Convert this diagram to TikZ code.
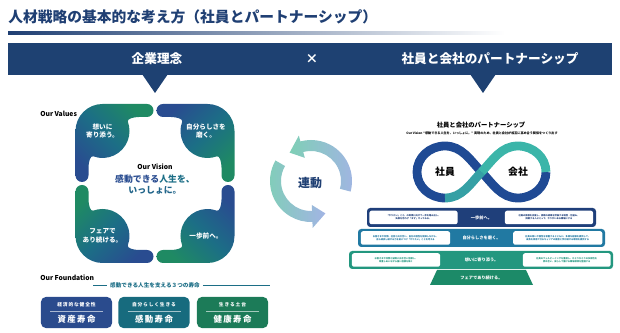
\documentclass[tikz,border=0pt]{standalone}
\usepackage{fontspec}
\setmainfont{Noto Sans CJK JP}

\definecolor{navy}{HTML}{1F3F73}
\definecolor{banner}{HTML}{1E4172}
\definecolor{vnavy}{HTML}{294C90}
\definecolor{vteal}{HTML}{1C6E86}
\definecolor{vgreen}{HTML}{1F8A63}
\definecolor{fblue}{HTML}{2A4B8D}
\definecolor{fteal}{HTML}{176B7E}
\definecolor{fgreen}{HTML}{1C7B58}
\definecolor{ttop}{HTML}{1F3F7A}
\definecolor{tmid}{HTML}{2179A2}
\definecolor{tlow}{HTML}{23977F}
\definecolor{tbase}{HTML}{1C8A68}
\definecolor{arrgreen}{HTML}{7FCFB6}
\definecolor{arrblue}{HTML}{A2B4E4}
\definecolor{infnavy}{HTML}{1F4A94}
\definecolor{infteal}{HTML}{3BB5A9}

\newcommand{\valuepetal}[4]{%
  \begin{scope}
    \clip[rotate around={#1:(155,-183.5)}]
      (207.5,-104) -- (163,-104) arc[start angle=90,end angle=270,radius=6.5]
      -- (171,-117) .. controls (177,-117) and (183.2,-119) .. (182.13,-121.77)
      arc[start angle=160,end angle=290,radius=27]
      .. controls (219.5,-155.3) and (221.5,-161.5) .. (221.5,-167.5)
      -- (221.5,-175.5) arc[start angle=180,end angle=360,radius=6.5]
      -- (234.5,-131) arc[start angle=0,end angle=90,radius=27] -- cycle;
    \shade[top color=vnavy, bottom color=vgreen, middle color=vteal, shading angle=#2] #3 rectangle #4;
  \end{scope}}

\begin{document}
\begin{tikzpicture}[x=0.025cm, y=0.025cm,
  ttl/.style={font=\fontsize{10.5}{12.5}\selectfont\bfseries, text=navy, anchor=west, inner sep=0pt},
  band/.style={font=\fontsize{9}{11}\selectfont\bfseries, text=white, inner sep=0pt},
  lbl/.style={font=\fontsize{4.8}{5.8}\selectfont\bfseries, inner sep=0pt},
  ptxt/.style={font=\fontsize{4.7}{6.2}\selectfont\bfseries, text=white, align=center, inner sep=0pt},
  vis/.style={font=\fontsize{6.3}{7.8}\selectfont\bfseries, align=center, inner sep=0pt},
  fbox/.style={rounded corners=0.12cm, minimum width=1.775cm, minimum height=0.775cm, inner sep=0pt},
  fsmall/.style={font=\fontsize{3.4}{4}\selectfont\bfseries, text=white, inner sep=0pt},
  fbig/.style={font=\fontsize{6}{7}\selectfont\bfseries, text=white, inner sep=0pt},
  fsep/.style={white, opacity=0.6, line width=0.2pt},
  tier/.style={rounded corners=0.08cm},
  tbox/.style={fill=white, rounded corners=0.05cm, inner sep=0pt, align=center,
               minimum height=0.3375cm, font=\fontsize{1.6}{2.3}\selectfont\bfseries},
  ttxt/.style={font=\fontsize{3}{3.6}\selectfont\bfseries, text=white, inner sep=0pt},
  infline/.style={line width=0.22cm},
  swirl/.style={left color=arrgreen, right color=arrblue, shift={(311,-181)}}
]
\useasboundingbox (0,0) rectangle (620,-333);
\node[ttl] (title) at (8,-17) {人材戦略の基本的な考え方（社員とパートナーシップ）};
\shade[left color=navy, middle color=navy!55!white, right color=white] (8,-31.5) rectangle (505,-34.5);
\fill[banner] (8,-43) rectangle (612,-75);
\fill[banner] (142,-74) -- (168,-74) -- (155,-93) -- cycle;
\fill[banner] (470,-74) -- (496,-74) -- (483,-93) -- cycle;
\node[band] (rinen)   at (157,-59) {企業理念};
\node[band] (kakeru)  at (312,-59) {×};
\node[band] (partner) at (490,-59) {社員と会社のパートナーシップ};

\node[lbl, anchor=west] (values) at (40,-114) {Our Values};
\valuepetal{0}{45}{(156,-104)}{(235,-182)}
\valuepetal{-90}{-45}{(156,-185)}{(235,-263)}
\valuepetal{-180}{-135}{(75,-185)}{(154,-263)}
\valuepetal{90}{135}{(75,-104)}{(154,-182)}
\node[ptxt] (omoi)  at (102.5,-131) {想いに\\寄り添う。};
\node[ptxt] (jibun) at (206,-131) {自分らしさを\\磨く。};
\node[ptxt] (fair)  at (102.5,-236) {フェアで\\あり続ける。};
\node[ptxt] (ippo)  at (206,-236) {一歩前へ。};
\node[lbl] (vision) at (155,-167) {Our Vision};
\node[vis] (kando) at (155,-185) {\textcolor{vnavy}{感動できる}\textcolor{vteal}{人生を、}\\\textcolor{vteal!70!vnavy}{いっしょに。}};

\node[lbl, anchor=west] (found) at (40,-278) {Our Foundation};
\node[font=\fontsize{4}{5}\selectfont\bfseries, text=vteal, inner sep=2pt] (three) at (155,-285) {感動できる人生を支える３つの寿命};
\draw[vteal, line width=0.3pt] (93,-285) -- (three.west);
\draw[vteal, line width=0.3pt] (three.east) -- (270,-285);
\node[fbox, fill=fblue]  (shisan) at (76.5,-312.5) {};
\node[fbox, fill=fteal]  (kandou) at (154,-312.5) {};
\node[fbox, fill=fgreen] (kenkou) at (232.5,-312.5) {};
\node[fsmall] (shisantop) at (76.5,-305) {経\,済\,的\,な\,健\,全\,性};
\node[fsmall] (kandoutop) at (154,-305) {自\,分\,ら\,し\,く\,生\,き\,る};
\node[fsmall] (kenkoutop) at (232.5,-305) {生\,き\,る\,土\,台};
\draw[fsep] (50,-311) -- (103,-311);
\draw[fsep] (127.5,-311) -- (180.5,-311);
\draw[fsep] (206,-311) -- (259,-311);
\node[fbig] (shisanname) at (76.5,-319.5) {資\,産\,寿\,命};
\node[fbig] (kandouname) at (154,-319.5) {感\,動\,寿\,命};
\node[fbig] (kenkouname) at (232.5,-319.5) {健\,康\,寿\,命};

\shade[swirl] (-15:41) arc[start angle=-15,end angle=105,radius=41] -- (105:47) -- (127:35.5)
  -- (105:24) -- (105:30) arc[start angle=105,end angle=-15,radius=30] -- cycle;
\shade[swirl] (150:41) arc[start angle=150,end angle=272,radius=41] -- (272:47) -- (294:35.5)
  -- (272:24) -- (272:30) arc[start angle=272,end angle=150,radius=30] -- cycle;
\node[font=\fontsize{8.5}{10}\selectfont\bfseries, text=navy, inner sep=0pt] (rendou) at (310,-183) {連動};

\node[font=\fontsize{4.5}{5.5}\selectfont\bfseries, inner sep=0pt] (ptitle) at (481,-125) {社員と会社のパートナーシップ};
\node[font=\fontsize{2.2}{2.6}\selectfont\bfseries, inner sep=0pt] (psub) at (482,-133) {Our Vision “感動できる人生を、いっしょに。” 実現のため、社員と会社が相互に高め合う関係をつくり出す};
\draw[infline, infnavy] (445,-198) .. controls (429.5,-198) and (417,-186.4) .. (417,-172)
  .. controls (417,-157.6) and (429.5,-146) .. (445,-146)
  .. controls (462,-146) and (470,-160) .. (481.5,-172)
  .. controls (493,-184) and (501,-198) .. (518,-198)
  .. controls (533.5,-198) and (546,-186.4) .. (546,-172);
\draw[infline, infteal!80!infnavy] (445,-198) .. controls (462,-198) and (470,-184) .. (481.5,-172);
\draw[infline, infteal] (481.5,-172) .. controls (493,-160) and (501,-146) .. (518,-146)
  .. controls (533.5,-146) and (546,-157.6) .. (546,-172);
\node[font=\fontsize{7}{8}\selectfont\bfseries, inner sep=0pt] (shain)  at (445,-172) {社員};
\node[font=\fontsize{7}{8}\selectfont\bfseries, inner sep=0pt] (kaisha) at (518,-172) {会社};

\fill[ttop, tier] (367,-208) rectangle (596,-227);
\node[tbox, text=ttop, minimum width=2.2cm] (ippoL) at (413.5,-217.5) {「やりたい」こと、の実現に向けて一歩を踏み出し、\\失敗を恐れず「まず」やってみる。};
\node[tbox, text=ttop, minimum width=2.2cm] (ippoR) at (549,-217.5) {社員の挑戦を支援し、挑戦の成果を評価する制度・仕組み。\\挑戦する人にとって、やりがいある職場にする};
\node[ttxt] (ippoC) at (481.5,-217.5) {一歩前へ。};

\fill[tmid, tier] (358,-229) rectangle (605,-247);
\node[tbox, text=tmid, minimum width=2.225cm] (jibunL) at (405.5,-238) {お客さまや仲間、社会と向き合い、自分の個性を発揮しながら、\\自ら成長し続ける力を身につけ「やりたい」ことを考える};
\node[tbox, text=tmid, minimum width=2.225cm] (jibunR) at (557.75,-238) {社員の想いや個性を尊重するとともに、多様な経験を提供して、\\成長を実感できるキャリアの機会と学び続ける環境を提供する};
\node[ttxt] (jibunC) at (481.5,-238) {自分らしさを磨く。};

\fill[tlow, tier] (349,-251) rectangle (613,-269);
\node[tbox, text=tlow, minimum width=2.2cm] (omoiL) at (396,-260) {お客さまや仲間と誠実に向き合い信頼し、\\尊重しあいながら強い信頼を築く};
\node[tbox, text=tlow, minimum width=2.1875cm] (omoiR) at (566.75,-260) {社員のウェルビーイングを重視し、ひとりひとりの多様性を\\認め合い、安心して働ける職場環境を整備する};
\node[ttxt] (omoiC) at (481.5,-260) {想いに寄り添う。};

\fill[tbase] (437,-270) -- (526,-270) -- (533,-285) -- (430,-285) -- cycle;
\node[ttxt] (fairC) at (481.5,-278) {フェアであり続ける。};
\end{tikzpicture}
\end{document}
